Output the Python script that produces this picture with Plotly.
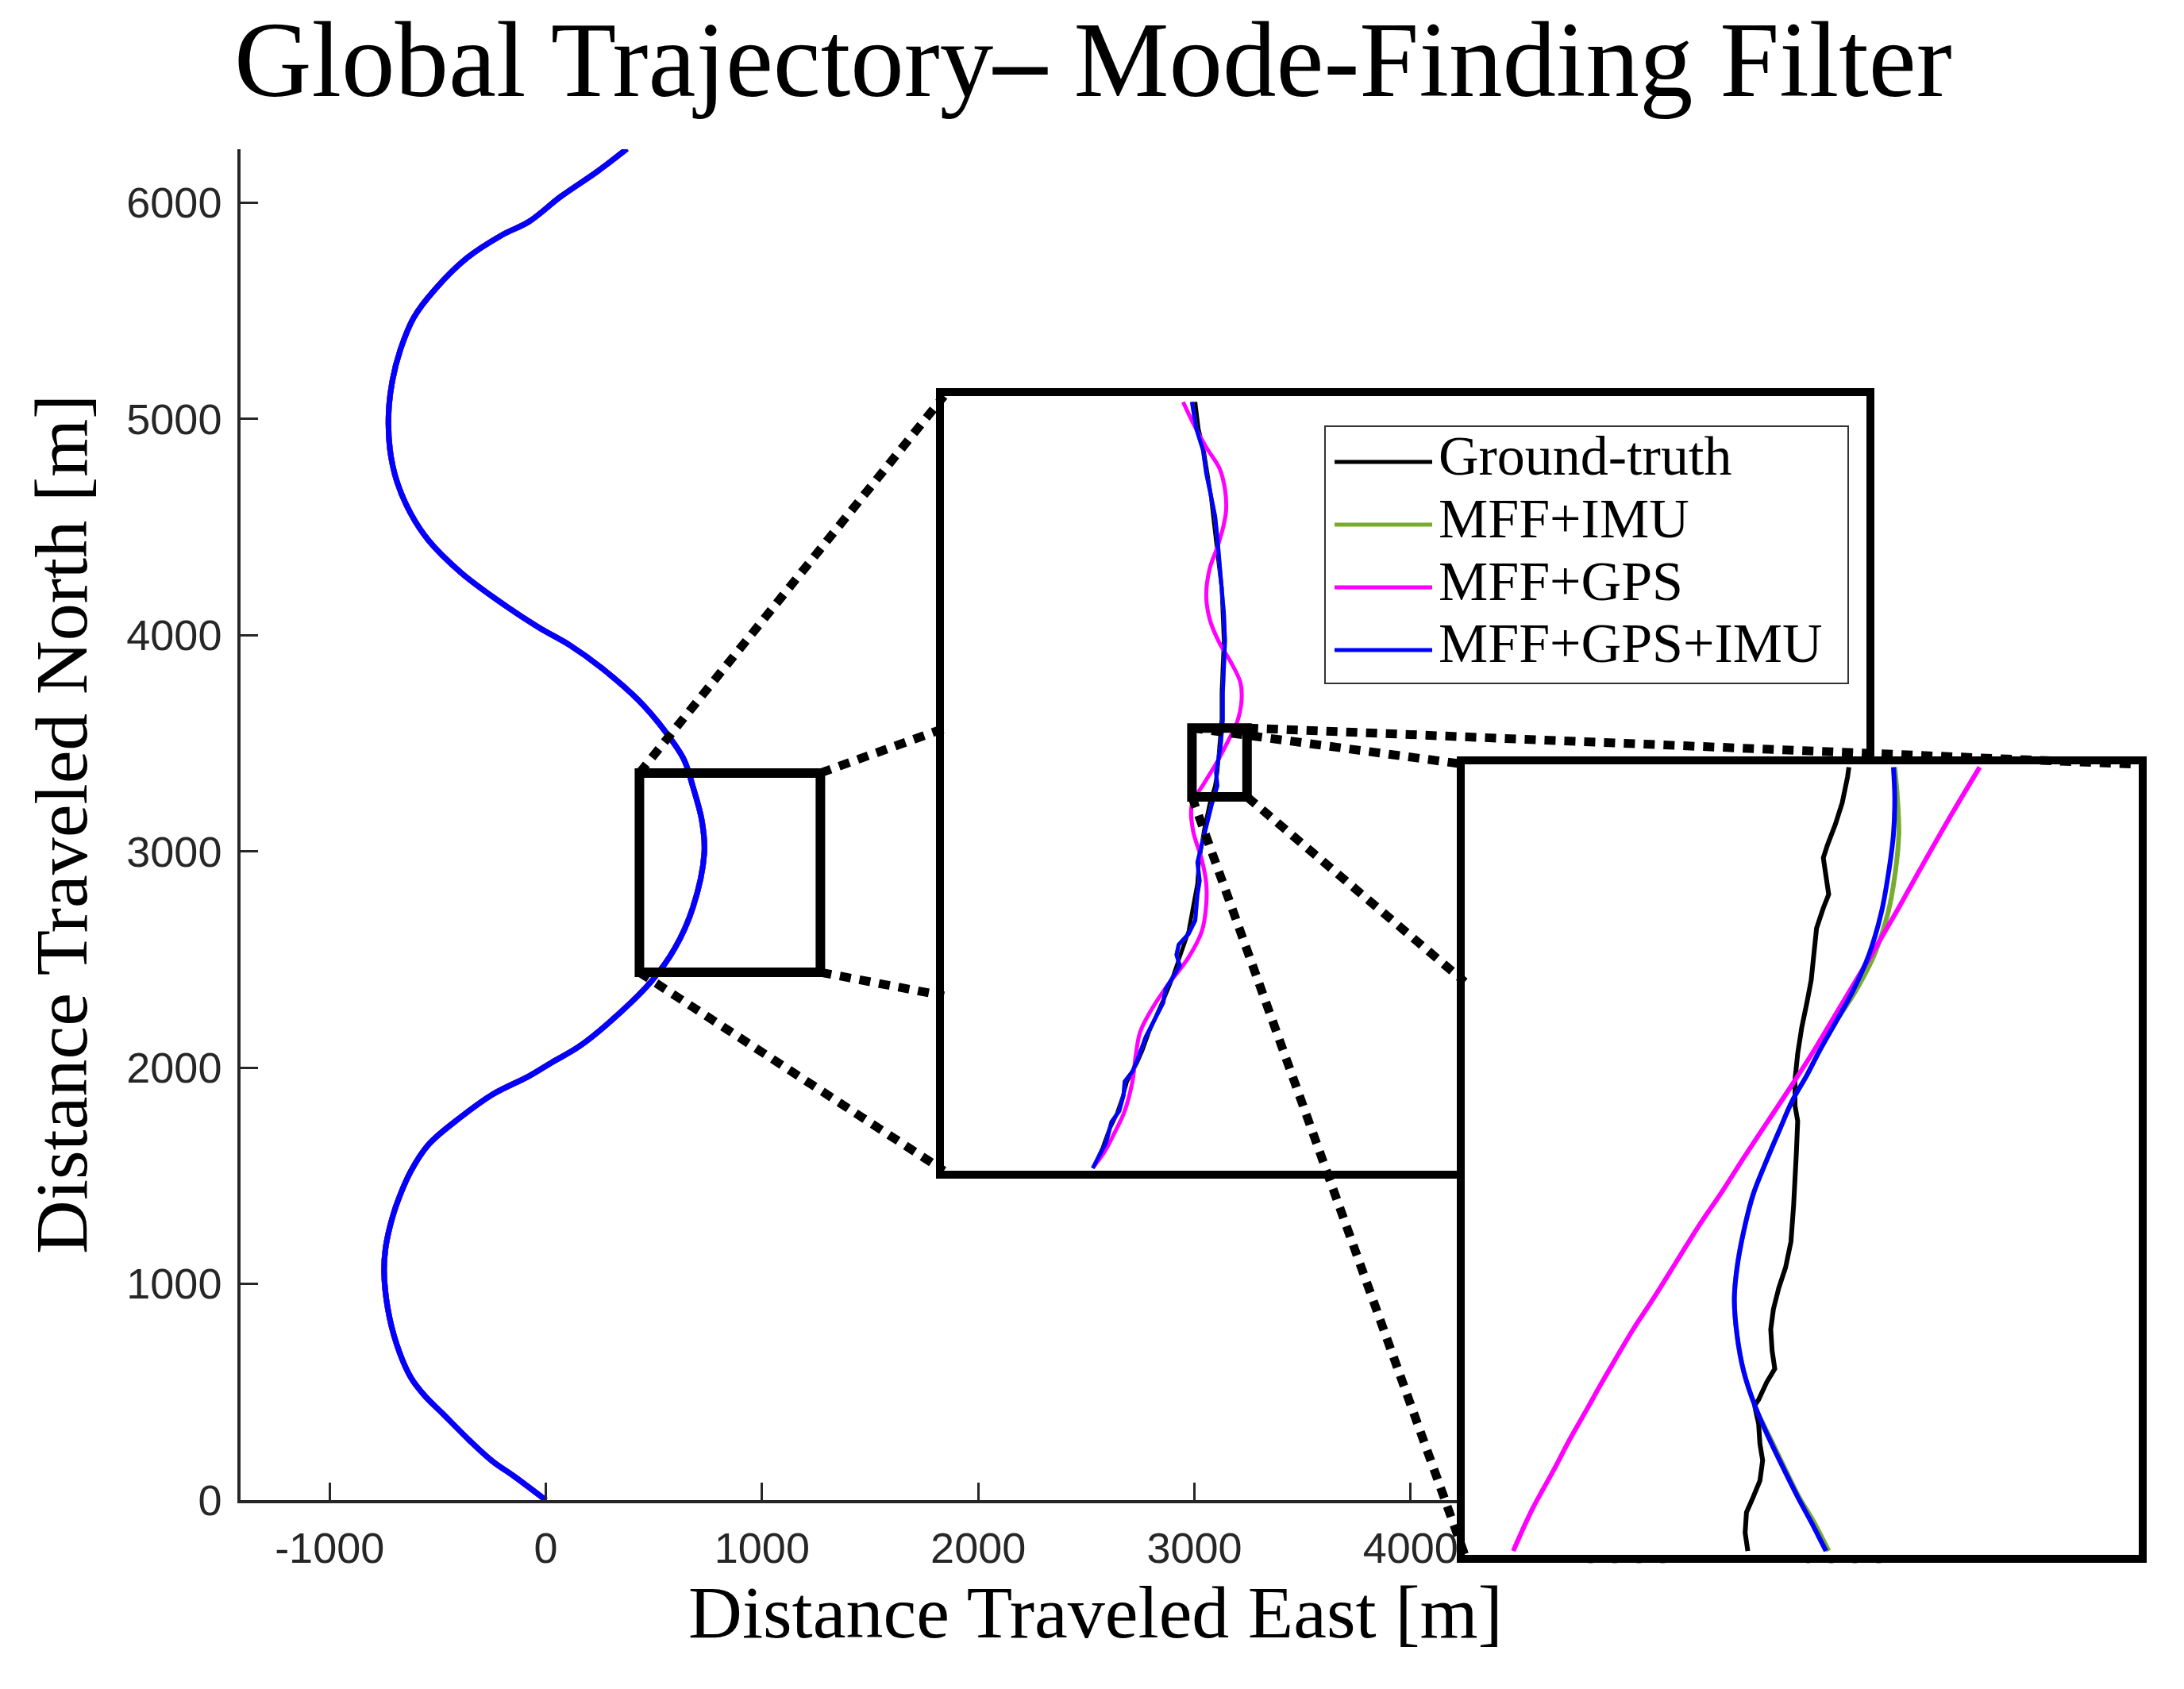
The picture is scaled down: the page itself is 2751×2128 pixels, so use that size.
import plotly.graph_objects as go

# Global trajectory. At this scale the four estimates
# sit on top of each other, so one set of points is used for all of them.
global_east = [0, -141, -247, -352, -478, -563, -626, -689, -731, -748, -742, -721, -689, -626,
               -542, -394, -247, -78, 27, 154, 322, 491, 596, 680, 733, 722, 680, 638, 554, 427,
               259, 111, -36, -226, -394, -542, -626, -689, -721, -727, -710, -672, -610, -515,
               -365, -205, -78, 69, 238, 375]
global_north = [0, 106, 180, 275, 401, 486, 570, 718, 886, 1055, 1160, 1265, 1371, 1518, 1645,
                1771, 1876, 1961, 2024, 2098, 2235, 2403, 2551, 2740, 2993, 3141, 3301, 3427, 3553,
                3701, 3848, 3954, 4038, 4164, 4291, 4438, 4565, 4712, 4860, 5028, 5176, 5323, 5471,
                5597, 5745, 5850, 5913, 6029, 6145, 6250]

# First zoom level
inset1_truth_east = [661, 664, 669, 673, 675, 677, 680, 682, 685, 686, 687, 686, 685, 685, 683, 681,
                     679, 674, 669, 664, 663, 658, 655, 650, 645, 640, 633, 626, 619, 613, 608, 599,
                     595, 590, 583, 577, 569]
inset1_truth_north = [3356, 3324, 3296, 3267, 3246, 3224, 3195, 3167, 3135, 3104, 3072, 3041, 3009,
                      2978, 2946, 2915, 2899, 2877, 2846, 2805, 2783, 2751, 2726, 2707, 2688, 2669,
                      2647, 2625, 2606, 2584, 2569, 2547, 2528, 2509, 2490, 2468, 2446]
inset1_gps_east = [650, 659, 671, 683, 688, 689, 686, 681, 674, 671, 674, 683, 693, 702, 703, 699, 691,
                   681, 669, 658, 659, 667, 671, 671, 667, 655, 635, 621, 611, 607, 604, 597, 587, 578,
                   569]
inset1_gps_north = [3356, 3331, 3302, 3277, 3252, 3227, 3205, 3183, 3157, 3126, 3098, 3069, 3047, 3022,
                    3000, 2975, 2953, 2928, 2902, 2877, 2846, 2811, 2783, 2758, 2726, 2695, 2660, 2632,
                    2606, 2578, 2547, 2512, 2484, 2462, 2446]
inset1_fused_east = [658, 662, 668, 671, 675, 679, 681, 683, 685, 687, 688, 687, 686, 686, 684, 680, 681,
                     676, 671, 667, 663, 665, 663, 661, 655, 646, 644, 647, 640, 634, 632, 623, 616, 610,
                     604, 597, 596, 592, 585, 580, 573, 568]
inset1_fused_north = [3356, 3324, 3299, 3271, 3246, 3220, 3195, 3167, 3135, 3104, 3072, 3041, 3009,
                      2978, 2946, 2915, 2899, 2877, 2852, 2830, 2808, 2786, 2770, 2739, 2723, 2710,
                      2698, 2685, 2669, 2657, 2641, 2619, 2600, 2578, 2559, 2547, 2531, 2512, 2499,
                      2474, 2455, 2444]
# MFF+IMU is hidden under MFF+GPS+IMU at this zoom level
inset1_imu_east = inset1_fused_east
inset1_imu_north = inset1_fused_north

# Second zoom level
inset2_truth_east = [686.5, 686.4, 686.0, 685.5, 684.9, 684.6, 684.8, 685.0, 684.6, 684.1, 683.9, 683.7,
                     683.4, 683.0, 682.7, 682.5, 682.5, 682.7, 682.6, 682.5, 682.4, 682.2, 681.8, 681.3,
                     680.9, 680.7, 680.8, 681.0, 680.4, 679.8, 679.5, 679.8, 679.9, 680.1, 679.9, 679.4,
                     678.9, 678.8, 679.0]
inset2_truth_north = [2967.7, 2966.7, 2964.0, 2961.8, 2959.6, 2958.3, 2956.4, 2954.5, 2953.1, 2951.0,
                      2948.3, 2945.6, 2943.4, 2940.7, 2938.0, 2935.3, 2932.6, 2931.0, 2927.7, 2924.5,
                      2922.3, 2918.5, 2915.8, 2913.7, 2911.5, 2909.4, 2907.2, 2905.3, 2903.9, 2902.1,
                      2901.5, 2899.6, 2897.5, 2895.8, 2893.7, 2892.0, 2890.4, 2888.3, 2886.4]
inset2_imu_east = [689.9, 690.1, 690.2, 689.9, 689.4, 688.4, 687.0, 685.5, 684.4, 683.4, 682.3, 681.3,
                   680.3, 679.4, 678.7, 678.2, 678.0, 678.2, 678.7, 679.6, 680.7, 681.8, 682.8, 683.9,
                   685.0]
inset2_fused_east = [689.8, 689.9, 689.8, 689.4, 688.9, 688.0, 686.8, 685.5, 684.4, 683.4, 682.3, 681.3,
                     680.3, 679.4, 678.7, 678.2, 678.0, 678.2, 678.7, 679.6, 680.6, 681.7, 682.7, 683.7,
                     684.8]
inset2_fused_north = [2967.7, 2964.5, 2960.7, 2956.4, 2952.6, 2948.3, 2944.5, 2941.2, 2938.5, 2935.8,
                      2933.1, 2929.9, 2926.6, 2923.4, 2919.6, 2915.8, 2912.6, 2908.8, 2905.0, 2901.2,
                      2898.0, 2894.8, 2892.0, 2889.4, 2886.4]
inset2_imu_north = inset2_fused_north
inset2_gps_east = [696.2, 693.9, 691.7, 690.1, 688.4, 686.9, 685.4, 683.9, 682.3, 680.5, 678.7, 677.1,
                   675.4, 673.7, 672.0, 670.5, 669.1, 668.1, 667.1, 665.8, 664.6, 663.0, 661.6]
inset2_gps_north = [2967.7, 2962.3, 2956.9, 2952.9, 2948.8, 2945.3, 2941.8, 2938.3, 2934.8, 2931.0,
                    2927.2, 2923.7, 2920.2, 2916.4, 2912.6, 2909.4, 2906.1, 2903.7, 2901.2, 2898.0,
                    2894.8, 2890.7, 2886.4]

series_names = ["Ground-truth", "MFF+IMU", "MFF+GPS", "MFF+GPS+IMU"]
series_colors = ["#000000", "#77ac30", "#ff00ff", "#0000ff"]

main_east_range = [-1412, 6494]
main_north_range = [0, 6248]
east_ticks = [-1000, 0, 1000, 2000, 3000, 4000, 5000, 6000]
north_ticks = [0, 1000, 2000, 3000, 4000, 5000, 6000]

# zoomed windows (the inset axes show exactly these windows)
main_zoom_east = [433, 1270]
main_zoom_north = [2441, 3363]
inset_zoom_east = [658, 708]
inset_zoom_north = [2886, 2968]

PAGE_W, PAGE_H = 2751, 2128
SERIF = "Liberation Serif"
SANS = "Liberation Sans"
AXIS_GREY = "#262626"


def px_x(v):
    return v / PAGE_W


def px_y(v):
    return 1 - v / PAGE_H


MAIN_X_DOMAIN = [px_x(303), px_x(2456)]
MAIN_Y_DOMAIN = [px_y(1890), px_y(188)]
INSET1_X_DOMAIN = [px_x(1189), px_x(2351)]
INSET1_Y_DOMAIN = [px_y(1475), px_y(499)]
INSET2_X_DOMAIN = [px_x(1845), px_x(2694)]
INSET2_Y_DOMAIN = [px_y(1959), px_y(963)]


def to_paper(value, axis_range, domain):
    frac = (value - axis_range[0]) / (axis_range[1] - axis_range[0])
    return domain[0] + frac * (domain[1] - domain[0])


def add_connectors(fig, zoom_east, zoom_north, src_xr, src_yr, src_xd, src_yd, dst_xd, dst_yd):
    # dotted lines from each corner of the zoom window to the same corner of the inset;
    # a line that runs behind the inset stops at the inset's left edge
    for ie, jn in [(0, 1), (0, 0), (1, 1), (1, 0)]:
        x0 = to_paper(zoom_east[ie], src_xr, src_xd)
        y0 = to_paper(zoom_north[jn], src_yr, src_yd)
        x1, y1 = dst_xd[ie], dst_yd[jn]
        t = (dst_xd[0] - x0) / (x1 - x0)
        if 0 < t < 1:
            yc = y0 + t * (y1 - y0)
            if dst_yd[0] < yc < dst_yd[1]:
                x1, y1 = dst_xd[0], yc
        fig.add_shape(type="line", xref="paper", yref="paper", x0=x0, y0=y0, x1=x1, y1=y1,
                      line=dict(color="black", width=11, dash="14px,11px"))


fig = go.Figure()

for name, color in zip(series_names, series_colors):
    fig.add_trace(go.Scatter(x=global_east, y=global_north, name=name, mode="lines",
                             line=dict(color=color, width=7, shape="spline"),
                             xaxis="x", yaxis="y", hoverinfo="skip"))

inset1_series = [
    (inset1_truth_east, inset1_truth_north, "linear"),
    (inset1_imu_east, inset1_imu_north, "linear"),
    (inset1_gps_east, inset1_gps_north, "spline"),
    (inset1_fused_east, inset1_fused_north, "linear"),
]
for (east, north, shape), name, color in zip(inset1_series, series_names, series_colors):
    fig.add_trace(go.Scatter(x=east, y=north, name=name, mode="lines",
                             line=dict(color=color, width=5, shape=shape),
                             xaxis="x2", yaxis="y2", hoverinfo="skip"))

inset2_series = [
    (inset2_truth_east, inset2_truth_north, "linear"),
    (inset2_imu_east, inset2_imu_north, "spline"),
    (inset2_gps_east, inset2_gps_north, "spline"),
    (inset2_fused_east, inset2_fused_north, "spline"),
]
for (east, north, shape), name, color in zip(inset2_series, series_names, series_colors):
    fig.add_trace(go.Scatter(x=east, y=north, name=name, mode="lines",
                             line=dict(color=color, width=6, shape=shape),
                             xaxis="x3", yaxis="y3", hoverinfo="skip"))

main_axis = dict(
    showgrid=False, zeroline=False, ticks="inside", ticklen=22, tickwidth=3, tickcolor=AXIS_GREY,
    showline=True, linewidth=3.5, linecolor=AXIS_GREY,
    tickfont=dict(family=SANS, size=54, color=AXIS_GREY),
)
inset_axis = dict(
    showgrid=False, zeroline=False, showline=True, mirror=True, linewidth=10, linecolor="black",
    showticklabels=False, ticks="",
)

fig.update_layout(
    template="none",
    width=PAGE_W, height=PAGE_H,
    margin=dict(l=0, r=0, t=0, b=0),
    paper_bgcolor="white", plot_bgcolor="white",
    showlegend=False,
    title=dict(text="Global Trajectory<b>–</b> Mode-Finding Filter", x=0.5005, xanchor="center",
               y=0.9655, yanchor="middle", font=dict(family=SERIF, size=135, color="black")),
    xaxis=dict(main_axis, domain=MAIN_X_DOMAIN, range=main_east_range, anchor="y",
               tickvals=east_ticks, ticktext=[str(v) for v in east_ticks], ticklabelstandoff=10),
    yaxis=dict(main_axis, domain=MAIN_Y_DOMAIN, range=main_north_range, anchor="x",
               tickvals=north_ticks, ticktext=[str(v) for v in north_ticks], ticklabelstandoff=9),
    xaxis2=dict(inset_axis, domain=INSET1_X_DOMAIN, range=main_zoom_east, anchor="y2"),
    yaxis2=dict(inset_axis, domain=INSET1_Y_DOMAIN, range=main_zoom_north, anchor="x2"),
    xaxis3=dict(inset_axis, domain=INSET2_X_DOMAIN, range=inset_zoom_east, anchor="y3"),
    yaxis3=dict(inset_axis, domain=INSET2_Y_DOMAIN, range=inset_zoom_north, anchor="x3"),
)

# axis titles
fig.add_annotation(text="Distance Traveled East [m]", xref="paper", yref="paper",
                   x=(MAIN_X_DOMAIN[0] + MAIN_X_DOMAIN[1]) / 2, y=px_y(2031),
                   xanchor="center", yanchor="middle", showarrow=False,
                   font=dict(family=SERIF, size=94, color="black"))
fig.add_annotation(text="Distance Traveled North [m]", xref="paper", yref="paper",
                   x=px_x(77), y=(MAIN_Y_DOMAIN[0] + MAIN_Y_DOMAIN[1]) / 2, textangle=-90,
                   xanchor="center", yanchor="middle", showarrow=False,
                   font=dict(family=SERIF, size=94, color="black"))

# zoom windows
fig.add_shape(type="rect", xref="x", yref="y", x0=main_zoom_east[0], x1=main_zoom_east[1],
              y0=main_zoom_north[0], y1=main_zoom_north[1], line=dict(color="black", width=12))
fig.add_shape(type="rect", xref="x2", yref="y2", x0=inset_zoom_east[0], x1=inset_zoom_east[1],
              y0=inset_zoom_north[0], y1=inset_zoom_north[1], line=dict(color="black", width=12))

add_connectors(fig, main_zoom_east, main_zoom_north, main_east_range, main_north_range,
               MAIN_X_DOMAIN, MAIN_Y_DOMAIN, INSET1_X_DOMAIN, INSET1_Y_DOMAIN)
add_connectors(fig, inset_zoom_east, inset_zoom_north, main_zoom_east, main_zoom_north,
               INSET1_X_DOMAIN, INSET1_Y_DOMAIN, INSET2_X_DOMAIN, INSET2_Y_DOMAIN)

# legend, drawn by hand so the line samples are as long as in the original
fig.add_shape(type="rect", xref="paper", yref="paper", x0=px_x(1669), x1=px_x(2328),
              y0=px_y(861), y1=px_y(537), line=dict(color="#333333", width=2), fillcolor="white")
for i, (name, color) in enumerate(zip(series_names, series_colors)):
    row_y = 582 + 79 * i
    fig.add_shape(type="line", xref="paper", yref="paper", x0=px_x(1681), x1=px_x(1804),
                  y0=px_y(row_y), y1=px_y(row_y), line=dict(color=color, width=5))
    fig.add_annotation(text=name, xref="paper", yref="paper", x=px_x(1810), y=px_y(row_y - 8),
                       xanchor="left", yanchor="middle", showarrow=False,
                       font=dict(family=SERIF, size=70, color="black"))

fig.write_html("out.html", config={"displayModeBar": False},
               post_script="document.body.style.margin='0';")
